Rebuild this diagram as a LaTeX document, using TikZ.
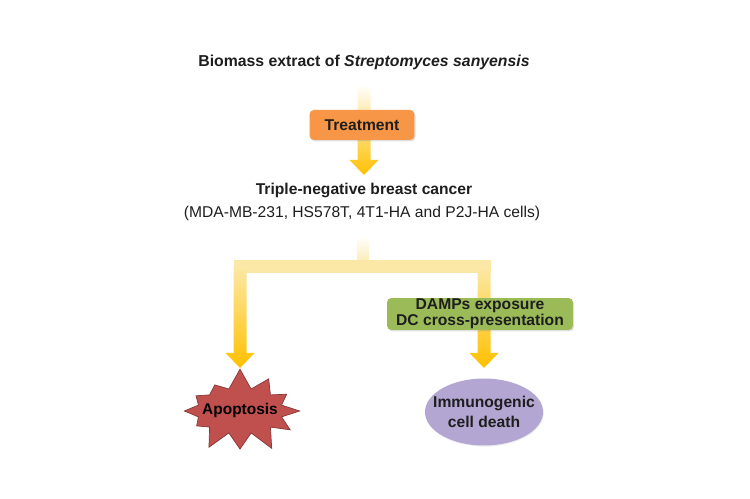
\documentclass[tikz,border=0pt]{standalone}
\usepackage{fontspec}
\setmainfont{Liberation Sans}
\usetikzlibrary{calc,positioning,shapes.symbols,shapes.geometric,shadows}

\definecolor{treatorange}{HTML}{F79646}
\definecolor{dampgreen}{HTML}{9BBB59}
\definecolor{icdpurple}{HTML}{B3A6D2}
\definecolor{apored}{HTML}{C0504D}
\definecolor{arrowgold}{HTML}{FFC000}
\definecolor{arrowpale}{HTML}{FFF6D8}
\definecolor{barpale}{HTML}{FCE8A6}
\definecolor{inktext}{HTML}{1E1E1E}

% block arrow with a fading shaft, from #2 down to tip #3
\newcommand{\fadearrow}[3][arrowpale]{%
  \shade[top color=#1, bottom color=arrowgold]
    ($(#2)+(-6.5,0)$) -- ($(#3)+(-6.5,-15)$) -- ($(#3)+(-14.5,-15)$) -- (#3)
    -- ($(#3)+(14.5,-15)$) -- ($(#3)+(6.5,-15)$) -- ($(#2)+(6.5,0)$) -- cycle;}

\tikzset{
  label text/.style={text=inktext, font=\fontsize{8.9}{10.5}\selectfont},
  stepbox/.style={rounded corners=2.5pt, inner sep=0pt, align=center, text=inktext,
    font=\bfseries\fontsize{8.9}{9.2}\selectfont,
    drop shadow={shadow xshift=0.6pt, shadow yshift=-0.8pt, opacity=0.25}},
}

\begin{document}
\begin{tikzpicture}[x=0.02cm, y=-0.02cm] % S. sanyensis extract on TNBC cells
    \useasboundingbox (0,0) rectangle (750,499);

    \node[label text, font=\bfseries\fontsize{9}{10.5}\selectfont] (extract) at (364,62)
        {Biomass extract of \textit{Streptomyces sanyensis}};
    \coordinate (src) at (364,84);
    \coordinate (tnbctip) at (364,175);
    \fadearrow[white]{src}{tnbctip}
    \node[stepbox, fill=treatorange, minimum width=2.1cm, minimum height=0.6cm] (treat) at (362,125) {Treatment};

    \node[label text, font=\bfseries\fontsize{8.9}{10.5}\selectfont] (tnbc) at (364,190) {Triple-negative breast cancer};
    \node[label text] (cells) at (362,213) {(MDA-MB-231, HS578T, 4T1-HA and P2J-HA cells)};

    % fork towards the two outcomes
    \coordinate (stem) at (363,236);
    \coordinate (fork) at (363,267);
    \coordinate (lcorner) at (240,267);
    \coordinate (rcorner) at (484,267);
    \coordinate (apotip) at (240,368);
    \coordinate (icdtip) at (484,368);
    \shade[top color=white, bottom color=barpale] ($(stem)+(-6,0)$) rectangle ($(fork)+(6,0)$);
    \fill[barpale] ($(lcorner)+(-6.5,-6.5)$) rectangle ($(rcorner)+(6.5,6.5)$);
    \fadearrow[barpale]{lcorner}{apotip}
    \fadearrow[barpale]{rcorner}{icdtip}

    \node[stepbox, fill=dampgreen, minimum width=3.72cm, minimum height=0.64cm] (damps) at (480,314)
        {DAMPs exposure\\DC cross-presentation};

    \node[starburst, starburst points=12, starburst point height=0.42cm, random starburst=7,
          fill=apored, draw=apored!70!black, line width=0.4pt, minimum width=1.8cm, minimum height=1.75cm,
          inner xsep=-4.2pt, inner ysep=4.5pt, font=\bfseries\fontsize{8.8}{10}\selectfont, text=black] (apo) at (240,411) {Apoptosis};
    \node[ellipse, fill=icdpurple, minimum width=2.36cm, minimum height=1.34cm, align=center,
          inner xsep=-5.5pt, inner ysep=0pt,
          font=\bfseries\fontsize{8.9}{11.4}\selectfont, text=inktext,
          drop shadow={shadow xshift=0.5pt, shadow yshift=-0.6pt, opacity=0.15}] (icd) at (484,412)
        {Immunogenic\\cell death};
\end{tikzpicture}
\end{document}
